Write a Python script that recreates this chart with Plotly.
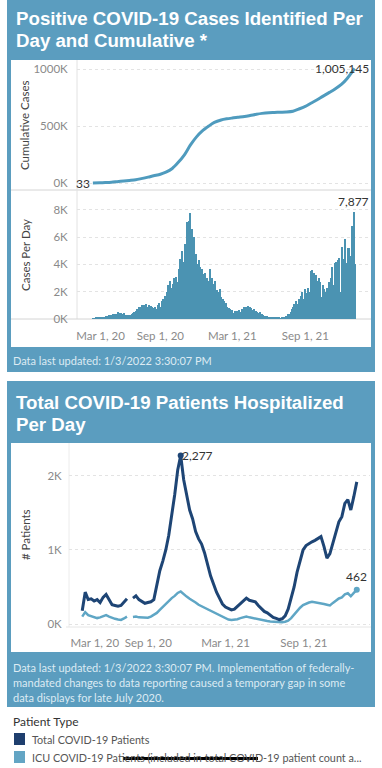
import pandas as pd
import plotly.graph_objects as go

W, H = 382, 768

# ---------------- data ----------------
cum_dates = ["2020-03-15", "2020-04-01", "2020-04-15", "2020-05-01", "2020-05-15", "2020-06-01",
             "2020-06-15", "2020-07-01", "2020-07-15", "2020-08-01", "2020-08-15", "2020-09-01",
             "2020-09-15", "2020-10-01", "2020-10-15", "2020-11-01", "2020-11-15", "2020-12-01",
             "2020-12-15", "2021-01-01", "2021-01-15", "2021-02-01", "2021-02-15", "2021-03-01",
             "2021-03-15", "2021-04-01", "2021-04-15", "2021-05-01", "2021-05-15", "2021-06-01",
             "2021-06-15", "2021-07-01", "2021-07-15", "2021-08-01", "2021-08-15", "2021-09-01",
             "2021-09-15", "2021-10-01", "2021-10-15", "2021-11-01", "2021-11-15", "2021-12-01",
             "2021-12-15", "2022-01-01", "2022-01-03"]
cum_cases = [33, 1500, 3800, 7000, 12000, 18000,
             23000, 29000, 39000, 52000, 64000, 77000,
             95000, 128000, 177000, 250000, 330000, 405000,
             455000, 500000, 532000, 553000, 563000, 570000,
             576000, 583000, 592000, 603000, 611000, 617000,
             619000, 621000, 623000, 630000, 648000, 672000,
             700000, 730000, 760000, 795000, 825000, 865000,
             915000, 995000, 1005145]

daily_start = "2020-03-15"   # one value every 3 days
daily_cases = [
    20, 40, 60, 90, 120, 140, 160, 170, 150, 180,
    160, 200, 230, 250, 300, 330, 280, 380, 300, 350,
    400, 520, 450, 380, 420, 350, 420, 300, 330, 280,
    300, 260, 330, 400, 450, 550, 600, 750, 700, 850,
    900, 1000, 850, 1050, 950, 1100, 850, 1000, 900, 950,
    850, 800, 900, 650, 700, 1000, 1200, 900, 1300, 1500,
    1400, 1700, 2000, 2500, 2200, 2800, 2300, 2600, 3000, 2400,
    3100, 2700, 3700, 4400, 3500, 5000, 4200, 5500, 5200, 7100,
    6500, 7200, 7800, 6600, 5500, 6000, 3500, 4800, 4000, 4300,
    3800, 3000, 3700, 3300, 3400, 2200, 3000, 2800, 3700, 2600,
    3000, 2600, 2400, 2800, 2100, 2000, 1800, 2200, 1600, 1500,
    1300, 1100, 1200, 900, 800, 700, 550, 650, 450, 600,
    500, 600, 450, 650, 550, 700, 600, 850, 750, 900,
    950, 700, 850, 800, 650, 700, 550, 600, 500, 450,
    500, 350, 400, 300, 250, 200, 220, 150, 180, 120,
    130, 100, 110, 80, 90, 80, 90, 70, 60, 100,
    120, 150, 200, 250, 350, 400, 500, 700, 900, 1100,
    800, 1300, 1100, 1500, 1200, 1700, 2000, 1500, 2200, 1900,
    1400, 2300, 2000, 3500, 3600, 2900, 3400, 3200, 2800, 1800,
    3000, 2700, 1600, 2500, 2200, 2000, 1300, 2300, 2700, 1700,
    3000, 3800, 2500, 4100, 4200, 1800, 4300, 4500, 2000, 5300,
    4400, 2600, 5900, 4100, 5200, 5200, 2000, 4600, 6800, 7877,
    4000]

hosp_start = "2020-03-30"    # weekly
hosp_total = [
    180, 430, 330, 340, 310, 330, 290, 360, 400, 330,
    260, 250, 240, 250, 290, 340, None, 350, 380, 330,
    300, 280, 290, 300, 330, 520, 720, 850, 1000, 1200,
    1450, 1750, 2080, 2277, 1950, 1750, 1540, 1420, 1250, 1150,
    1080, 960, 800, 650, 540, 430, 350, 270, 230, 210,
    190, 200, 240, 280, 310, 350, 320, 310, 300, 250,
    210, 170, 150, 120, 90, 75, 60, 70, 110, 200,
    350, 500, 700, 850, 1000, 1060, 1090, 1110, 1130, 1150,
    1180, 1050, 890, 950, 1100, 1230, 1380, 1450, 1630, 1680,
    1540, 1720, 1920]
hosp_icu = [
    100, 160, 120, 110, 90, 80, 90, 110, 120, 100,
    80, 70, 60, 55, 75, 100, None, 95, 100, 90,
    85, 80, 85, 100, 120, 150, 190, 230, 270, 320,
    350, 380, 420, 440, 400, 370, 340, 320, 290, 260,
    240, 220, 200, 180, 165, 140, 120, 95, 75, 60,
    55, 55, 65, 80, 90, 100, 90, 80, 75, 65,
    55, 45, 40, 35, 30, 28, 25, 25, 30, 45,
    80, 130, 180, 220, 255, 275, 290, 300, 295, 285,
    280, 270, 260, 250, 285, 320, 345, 360, 400, 415,
    375, 420, 462]

x_tick_vals = ["2020-03-01", "2020-09-01", "2021-03-01", "2021-09-01"]
x_tick_text = ["Mar 1, 20", "Sep 1, 20", "Mar 1, 21", "Sep 1, 21"]

# ---------------- helpers ----------------
def fx(p):
    return p / W

def fy(p):
    return 1 - p / H

TEAL = "#5B9DBF"
BAR = "#4B93B2"
LINE = "#4F9BBE"
DARK = "#1E4575"
LIGHT = "#5FA6C5"
GRID = "#e3e3e3"
TICK = "#8a8a8a"
FONT = "Lato, Liberation Sans, sans-serif"
TFONT = "Liberation Sans, Arial, sans-serif"

daily_dates = pd.date_range(daily_start, periods=len(daily_cases), freq="3D")
hosp_dates = pd.date_range(hosp_start, periods=len(hosp_total), freq="7D")

fig = go.Figure()

fig.add_trace(go.Scatter(x=pd.to_datetime(cum_dates), y=cum_cases, mode="lines",
                         line=dict(color=LINE, width=3, shape="spline", smoothing=0.8),
                         xaxis="x", yaxis="y", showlegend=False, hoverinfo="skip"))
fig.add_trace(go.Bar(x=daily_dates, y=daily_cases, marker=dict(color=BAR, line=dict(width=0)),
                     width=3 * 86400000, xaxis="x2", yaxis="y2", showlegend=False, hoverinfo="skip"))
fig.add_trace(go.Scatter(x=hosp_dates, y=hosp_icu, mode="lines",
                         line=dict(color=LIGHT, width=2.5), connectgaps=False,
                         xaxis="x3", yaxis="y3", showlegend=False, hoverinfo="skip"))
fig.add_trace(go.Scatter(x=hosp_dates, y=hosp_total, mode="lines",
                         line=dict(color=DARK, width=3), connectgaps=False,
                         xaxis="x3", yaxis="y3", showlegend=False, hoverinfo="skip"))
pk = hosp_total.index(max(v for v in hosp_total if v is not None))
fig.add_trace(go.Scatter(x=[hosp_dates[pk]], y=[hosp_total[pk]], mode="markers",
                         marker=dict(color=DARK, size=6), xaxis="x3", yaxis="y3",
                         showlegend=False, hoverinfo="skip"))
fig.add_trace(go.Scatter(x=[hosp_dates[-1]], y=[hosp_icu[-1]], mode="markers",
                         marker=dict(color=LIGHT, size=6), xaxis="x3", yaxis="y3",
                         showlegend=False, hoverinfo="skip"))

top_range = ["2020-02-04", "2022-02-11"]
hosp_range = ["2020-02-28", "2022-02-03"]

common_x = dict(showgrid=False, zeroline=False, showline=False, automargin=False,
                tickfont=dict(family=FONT, size=11.5, color=TICK))
common_y = dict(showgrid=True, gridcolor=GRID, griddash="dot", gridwidth=1, automargin=False,
                zeroline=False, showline=False, ticks="outside", tickcolor="rgba(0,0,0,0)",
                tickfont=dict(family=FONT, size=11.5, color=TICK))

pad_top = "\u00a0" * 9
pad_bot = "\u00a0" * 17

fig.update_layout(
    width=W, height=H, autosize=False,
    margin=dict(l=0, r=0, t=0, b=0, pad=0, autoexpand=False),
    paper_bgcolor="white", plot_bgcolor="rgba(0,0,0,0)",
    bargap=0,
    xaxis=dict(domain=[fx(77), fx(370)], range=top_range, anchor="y", ticks="",
               showticklabels=False, **common_x),
    yaxis=dict(domain=[fy(190), fy(60)], range=[-61000, 1079000], anchor="x", ticklen=6,
               tickvals=[0, 500000, 1000000], ticktext=["0K", "500K", "1000K"], **common_y),
    xaxis2=dict(domain=[fx(77), fx(370)], range=top_range, anchor="y2",
                tickvals=x_tick_vals, ticktext=[pad_top + x_tick_text[0]] + x_tick_text[1:],
                ticklen=6, tickcolor="rgba(0,0,0,0)", ticks="outside", **common_x),
    yaxis2=dict(domain=[fy(319), fy(190)], range=[0, 9460], anchor="x2", ticklen=6,
                tickvals=[0, 2000, 4000, 6000, 8000], ticktext=["0K", "2K", "4K", "6K", "8K"],
                **common_y),
    xaxis3=dict(domain=[fx(69), fx(370)], range=hosp_range, anchor="y3",
                tickvals=x_tick_vals, ticktext=[pad_bot + x_tick_text[0]] + x_tick_text[1:],
                ticklen=4, tickcolor="rgba(0,0,0,0)", ticks="outside", **common_x),
    yaxis3=dict(domain=[fy(628), fy(444)], range=[-54, 2432], anchor="x3", ticklen=4,
                tickvals=[0, 1000, 2000], ticktext=["0K", "1K", "2K"], **common_y),
)

def rect(x0, x1, y0, y1, color, layer="below"):
    return dict(type="rect", xref="paper", yref="paper", x0=fx(x0), x1=fx(x1), y0=fy(y1), y1=fy(y0),
                fillcolor=color, line_width=0, layer=layer)

def hline(x0, x1, y, color):
    return dict(type="line", xref="paper", yref="paper", x0=fx(x0), x1=fx(x1), y0=fy(y), y1=fy(y),
                line=dict(color=color, width=1), layer="below")

def vline(x, y0, y1, color):
    return dict(type="line", xref="paper", yref="paper", x0=fx(x), x1=fx(x), y0=fy(y0), y1=fy(y1),
                line=dict(color=color, width=1), layer="below")

shapes = [
    rect(7, 375, 0, 372, TEAL),
    rect(11, 371, 60, 347, "white"),
    rect(7, 375, 381, 707, TEAL),
    rect(11, 371, 443, 652, "white"),
    hline(11, 371, 190, "#d4d4d4"),
    vline(77, 60, 319, "#e2e2e2"),
    hline(11, 371, 319, "#d4d4d4"),
    vline(69, 443, 627, "#ececec"),
    hline(66, 371, 627, "#e6e6e6"),
    rect(14, 25, 733, 745, "#1F3F6E", "above"),
    rect(14, 25, 751, 763, "#63A5C4", "above"),
    rect(123, 258, 757, 760, "black", "above"),  # phone home indicator
]
fig.update_layout(shapes=shapes)

ann = []
def text(x, y, s, size, color, family=FONT, xanchor="left", yanchor="middle", angle=0, bold=False):
    ann.append(dict(x=fx(x), y=fy(y), xref="paper", yref="paper", text=("<b>%s</b>" % s) if bold else s,
                    showarrow=False, xanchor=xanchor, yanchor=yanchor, textangle=angle,
                    font=dict(family=family, size=size, color=color)))

text(14, 18, "Positive COVID-19 Cases Identified Per", 18.7, "white", TFONT, bold=True)
text(14, 40, "Day and Cumulative *", 18.7, "white", TFONT, bold=True)
text(14, 402, "Total COVID-19 Patients Hospitalized", 18.7, "white", TFONT, bold=True)
text(14, 424, "Per Day", 18.7, "white", TFONT, bold=True)
FOOT = "#DDEBF3"
text(11, 361, "Data last updated: 1/3/2022 3:30:07 PM", 11, FOOT)
text(11, 667, "Data last updated: 1/3/2022 3:30:07 PM. Implementation of federally-", 11, FOOT)
text(11, 682, "mandated changes to data reporting caused a temporary gap in some", 11, FOOT)
text(11, 697, "data displays for late July 2020.", 11, FOOT)
text(25, 125, "Cumulative Cases", 11.5, "#444", angle=-90, xanchor="center")
text(25, 255, "Cases Per Day", 11.5, "#444", angle=-90, xanchor="center")
text(25, 535, "# Patients", 11.5, "#444", angle=-90, xanchor="center")
text(11, 721, "Patient Type", 12, "#333")
text(30, 739, "Total COVID-19 Patients", 10.8, "#555")
text(30, 757, "ICU COVID-19 Patients (included in total COVID-19 patient count a...", 10.8, "#555")

LBL = dict(family=FONT, size=12, color="#333")
ann.append(dict(x=pd.to_datetime(cum_dates[0]), y=cum_cases[0], xref="x", yref="y", text=f"{cum_cases[0]:,}",
                showarrow=False, xanchor="right", yanchor="middle", xshift=-1, font=LBL))
ann.append(dict(x=pd.to_datetime(cum_dates[-1]), y=cum_cases[-1], xref="x", yref="y", text=f"{cum_cases[-1]:,}",
                showarrow=False, xanchor="right", yanchor="middle", xshift=16, font=LBL))
mi = daily_cases.index(max(daily_cases))
ann.append(dict(x=daily_dates[mi], y=daily_cases[mi], xref="x2", yref="y2", text=f"{daily_cases[mi]:,}",
                showarrow=False, xanchor="center", yanchor="bottom", yshift=1, font=LBL))
ann.append(dict(x=hosp_dates[pk], y=hosp_total[pk], xref="x3", yref="y3", text=f"{hosp_total[pk]:,}",
                showarrow=False, xanchor="left", yanchor="middle", xshift=-1, font=LBL))
ann.append(dict(x=hosp_dates[-1], y=hosp_icu[-1], xref="x3", yref="y3", text=f"{hosp_icu[-1]:,}",
                showarrow=False, xanchor="center", yanchor="bottom", yshift=4, font=LBL))

fig.update_layout(annotations=ann)
fig.write_html("out.html", config={"displayModeBar": False},
               post_script="document.body.style.margin='0';")
